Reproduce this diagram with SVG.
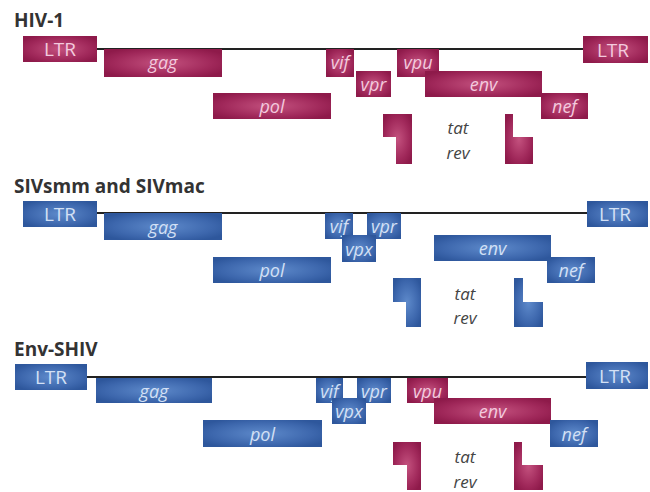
<svg xmlns="http://www.w3.org/2000/svg" width="650" height="492" viewBox="0 0 650 492">
<defs>
<radialGradient id="gm" cx="0.5" cy="0.5" r="0.6">
<stop offset="0" stop-color="#c4527f"/>
<stop offset="0.7" stop-color="#a0285a"/>
<stop offset="1" stop-color="#8e1a4a"/>
</radialGradient>
<radialGradient id="gb" cx="0.5" cy="0.5" r="0.6">
<stop offset="0" stop-color="#5e8acb"/>
<stop offset="0.7" stop-color="#3d67ad"/>
<stop offset="1" stop-color="#2e579c"/>
</radialGradient>
<style>
.m{fill:url(#gm)}
.b{fill:url(#gb)}
.ln{stroke:#222;stroke-width:2;fill:none}
.t{font-family:"Open Sans","Liberation Sans",sans-serif;font-weight:bold;font-size:19px;fill:#333}
.lm{font-family:"Open Sans","Liberation Sans",sans-serif;font-size:19px;fill:#f3cade;text-anchor:middle;dominant-baseline:central}
.lb{font-family:"Open Sans","Liberation Sans",sans-serif;font-size:19px;fill:#d3e0f5;text-anchor:middle;dominant-baseline:central}
.i{font-style:italic;font-size:18px}
.tr{font-family:"Open Sans","Liberation Sans",sans-serif;font-style:italic;font-size:17px;fill:#444;text-anchor:middle}
</style>
</defs>
<rect width="650" height="492" fill="#fff"/>

<g id="connectors">
<line class="ln" x1="97" y1="49" x2="583" y2="49"/>
<line class="ln" x1="97" y1="213" x2="587" y2="213"/>
<line class="ln" x1="87" y1="377" x2="586" y2="377"/>
</g>

<g id="hiv1">
<text class="t" x="14" y="27">HIV-1</text>
<g id="hiv-ltr-l"><rect class="m" x="23" y="36" width="74" height="26"/><text class="lm" x="60" y="49">LTR</text></g>
<g id="hiv-gag"><rect class="m" x="104" y="49" width="118" height="28"/><text class="lm i" x="163" y="62">gag</text></g>
<g id="hiv-vif"><rect class="m" x="326" y="49" width="28" height="28"/><text class="lm i" x="340" y="62">vif</text></g>
<g id="hiv-vpu"><rect class="m" x="397" y="49" width="42" height="28"/><text class="lm i" x="418" y="62">vpu</text></g>
<g id="hiv-vpr"><rect class="m" x="356" y="71" width="35" height="26"/><text class="lm i" x="373.500" y="84">vpr</text></g>
<g id="hiv-env"><rect class="m" x="425" y="71" width="117" height="26"/><text class="lm i" x="483.500" y="84">env</text></g>
<g id="hiv-pol"><rect class="m" x="213" y="93" width="118" height="26"/><text class="lm i" x="272" y="106">pol</text></g>
<g id="hiv-nef"><rect class="m" x="541" y="93" width="47" height="26"/><text class="lm i" x="564.500" y="106">nef</text></g>
<g id="hiv-ltr-r"><rect class="m" x="583" y="36" width="65" height="27"/><text class="lm" x="613" y="49.500">LTR</text></g>
<g id="hiv-tatrev">
<polygon class="m" points="383,114 412,114 412,164 396,164 396,137 383,137"/>
<polygon class="m" points="505,114 513,114 513,137 533,137 533,164 505,164"/>
<text class="tr" x="458" y="134">tat</text>
<text class="tr" x="458" y="159">rev</text>
</g>
</g>

<g id="siv">
<text class="t" x="14" y="193">SIVsmm and SIVmac</text>
<g id="siv-ltr-l"><rect class="b" x="23" y="201" width="74" height="26"/><text class="lb" x="60" y="214">LTR</text></g>
<g id="siv-gag"><rect class="b" x="104" y="213" width="118" height="27"/><text class="lb i" x="163" y="226.500">gag</text></g>
<g id="siv-vif"><rect class="b" x="325" y="213" width="28" height="26"/><text class="lb i" x="339" y="226">vif</text></g>
<g id="siv-vpr"><rect class="b" x="367" y="213" width="34" height="26"/><text class="lb i" x="384" y="226">vpr</text></g>
<g id="siv-vpx"><rect class="b" x="342" y="235" width="34" height="27"/><text class="lb i" x="359" y="248.500">vpx</text></g>
<g id="siv-env"><rect class="b" x="434" y="235" width="117" height="26"/><text class="lb i" x="492.500" y="248">env</text></g>
<g id="siv-pol"><rect class="b" x="213" y="257" width="118" height="26"/><text class="lb i" x="272" y="270">pol</text></g>
<g id="siv-nef"><rect class="b" x="547" y="257" width="48" height="26"/><text class="lb i" x="571" y="270">nef</text></g>
<g id="siv-ltr-r"><rect class="b" x="587" y="201" width="61" height="26"/><text class="lb" x="615" y="214">LTR</text></g>
<g id="siv-tatrev">
<polygon class="b" points="393,278 421,278 421,327 406,327 406,302 393,302"/>
<polygon class="b" points="514,278 523,278 523,302 543,302 543,327 514,327"/>
<text class="tr" x="465" y="300">tat</text>
<text class="tr" x="465" y="324">rev</text>
</g>
</g>

<g id="shiv">
<text class="t" x="14" y="356">Env-SHIV</text>
<g id="shiv-ltr-l"><rect class="b" x="15" y="364" width="72" height="26"/><text class="lb" x="51" y="377">LTR</text></g>
<g id="shiv-gag"><rect class="b" x="96" y="378" width="116" height="25"/><text class="lb i" x="154" y="390.500">gag</text></g>
<g id="shiv-vif"><rect class="b" x="316" y="378" width="27" height="25"/><text class="lb i" x="329.500" y="390.500">vif</text></g>
<g id="shiv-vpr"><rect class="b" x="357" y="378" width="34" height="25"/><text class="lb i" x="374" y="390.500">vpr</text></g>
<g id="shiv-vpx"><rect class="b" x="332" y="398" width="34" height="26"/><text class="lb i" x="349" y="411">vpx</text></g>
<g id="shiv-vpu"><rect class="m" x="407" y="378" width="41" height="25"/><text class="lm i" x="427.500" y="390.500">vpu</text></g>
<g id="shiv-env"><rect class="m" x="434" y="398" width="117" height="26"/><text class="lm i" x="492.500" y="411">env</text></g>
<g id="shiv-pol"><rect class="b" x="203" y="420" width="119" height="27"/><text class="lb i" x="262.500" y="433.500">pol</text></g>
<g id="shiv-nef"><rect class="b" x="550" y="420" width="48" height="27"/><text class="lb i" x="574" y="433.500">nef</text></g>
<g id="shiv-ltr-r"><rect class="b" x="586" y="362" width="62" height="27"/><text class="lb" x="615" y="375.500">LTR</text></g>
<g id="shiv-tatrev">
<polygon class="m" points="393,442 421,442 421,490 407,490 407,465 393,465"/>
<polygon class="m" points="514,442 522,442 522,465 543,465 543,490 514,490"/>
<text class="tr" x="465" y="463">tat</text>
<text class="tr" x="465" y="488">rev</text>
</g>
</g>
</svg>
